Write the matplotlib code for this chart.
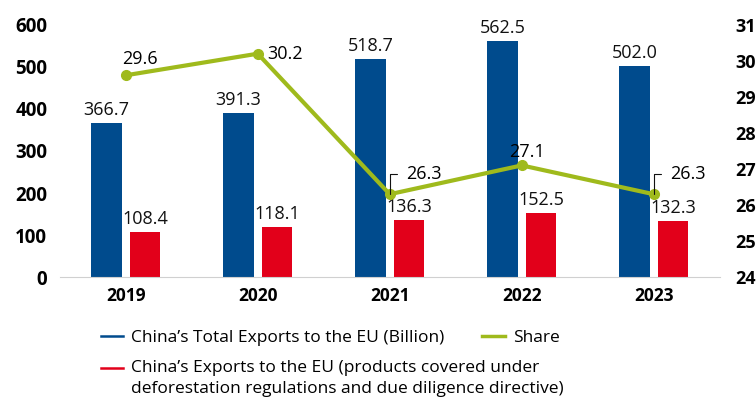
import numpy as np
import matplotlib.pyplot as plt
from matplotlib.legend_handler import HandlerLine2D

plt.rcParams['font.family'] = ['Open Sans', 'DejaVu Sans']

years = ['2019', '2020', '2021', '2022', '2023']
total_exports = [366.7, 391.3, 518.7, 562.5, 502.0]
covered_exports = [108.4, 118.1, 136.3, 152.5, 132.3]
share = [29.6, 30.2, 26.3, 27.1, 26.3]

blue = '#004b8d'
red = '#e2001a'
green = '#9fba1c'
fs = 13


class TopLine(HandlerLine2D):
    # legend line sitting level with the first line of a two-line label
    def create_artists(self, legend, orig_handle, xdescent, ydescent,
                       width, height, fontsize, trans):
        return super().create_artists(legend, orig_handle, xdescent, ydescent - 16,
                                      width, height, fontsize, trans)


fig = plt.figure(figsize=(7.56, 4.01), dpi=100)
ax = fig.add_axes([0.079, 0.309, 0.873, 0.629])
ax2 = ax.twinx()

x = np.arange(len(years))
w = 0.23
b1 = ax.bar(x - 0.145, total_exports, w, color=blue, zorder=2)
b2 = ax.bar(x + 0.145, covered_exports, w, color=red, zorder=2)

for rect, v in zip(b1, total_exports):
    ax.annotate(f'{v:.1f}', (rect.get_x() + rect.get_width() / 2, v),
                xytext=(0, 4), textcoords='offset pixels',
                ha='center', va='bottom', fontsize=fs, color='#111111')
for rect, v in zip(b2, covered_exports):
    ax.annotate(f'{v:.1f}', (rect.get_x() + rect.get_width() / 2, v),
                xytext=(0, 4), textcoords='offset pixels',
                ha='center', va='bottom', fontsize=fs, color='#111111')

ax.set_xlim(-0.5, 4.5)
ax.set_ylim(0, 600)
ax.set_yticks(range(0, 601, 100))
ax.set_xticks(x)
ax.set_xticklabels(years, fontsize=12.5, fontweight='bold')
ax.tick_params(axis='y', length=0, pad=9, labelsize=13.5)
ax.tick_params(axis='x', length=0, pad=7)
for lbl in ax.get_yticklabels():
    lbl.set_fontweight('bold')

ax2.set_ylim(24, 31)
ax2.set_yticks(range(24, 32))
ax2.tick_params(axis='y', length=0, pad=11, labelsize=13)
for lbl in ax2.get_yticklabels():
    lbl.set_fontweight('bold')

for a in (ax, ax2):
    for s in a.spines.values():
        s.set_visible(False)
ax.spines['bottom'].set_visible(True)
ax.spines['bottom'].set_color('#d0d0d0')

ax2.set_zorder(ax.get_zorder() + 1)
ax2.patch.set_visible(False)

ln, = ax2.plot(x, share, color=green, lw=3, marker='o', ms=7, zorder=3)

# share labels: first two plain, then with small elbow leaders
ax2.annotate(f'{share[0]:.1f}', (x[0], share[0]), xytext=(-4, 7),
             textcoords='offset pixels', ha='left', va='bottom', fontsize=fs)
ax2.annotate(f'{share[1]:.1f}', (x[1], share[1]), xytext=(10, -9),
             textcoords='offset pixels', ha='left', va='bottom', fontsize=fs)
ax2.annotate(f'{share[3]:.1f}', (x[3], share[3]), xytext=(5, 4),
             textcoords='offset pixels', ha='center', va='bottom', fontsize=fs)
for i in (2, 4):
    ax2.annotate(f'{share[i]:.1f}', (x[i], share[i]), xytext=(16, 20),
                 textcoords='offset pixels', ha='left', va='center', fontsize=fs,
                 arrowprops=dict(arrowstyle='-', color='#111111', lw=0.8,
                                 connectionstyle='angle,angleA=180,angleB=90,rad=0',
                                 relpos=(0, 0.5), shrinkA=4, shrinkB=0))

bar_handles = [plt.Line2D([], [], color=blue, lw=1.8),
               plt.Line2D([], [], color=red, lw=1.8)]
bar_labels = ['China\u2019s Total Exports to the EU (Billion)',
              'China\u2019s Exports to the EU (products covered under\n'
              'deforestation regulations and due diligence directive)']
leg_kw = dict(loc='upper left', frameon=False, fontsize=12.5, handlelength=1.3,
              handletextpad=0.45, labelspacing=0.8, borderaxespad=0, borderpad=0)
leg = fig.legend(bar_handles, bar_labels, bbox_to_anchor=(0.133, 0.177),
                 handler_map={bar_handles[1]: TopLine()}, **leg_kw)
for t in leg.get_texts():
    t.set_linespacing(1.45)
fig.legend([plt.Line2D([], [], color=green, lw=2.5)], ['Share'],
           bbox_to_anchor=(0.638, 0.177), **leg_kw)

fig.savefig('out.png', dpi=100)
